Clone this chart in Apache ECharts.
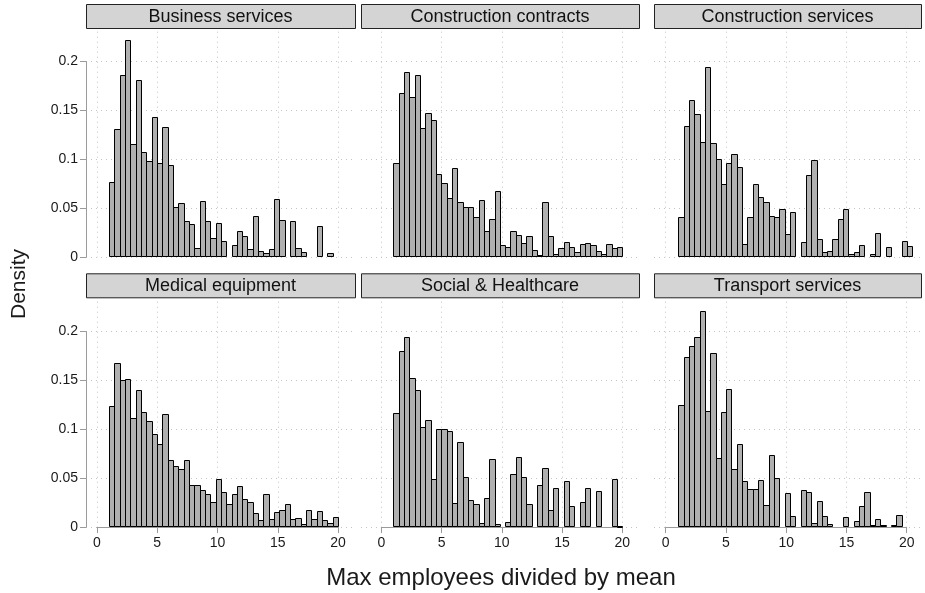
<!DOCTYPE html>
<html>
<head>
<meta charset="utf-8">
<script src="https://cdn.jsdelivr.net/npm/echarts@6.0.0/dist/echarts.min.js"></script>
<style>
  html, body { margin: 0; padding: 0; background: #ffffff; }
  #chart { width: 925px; height: 593px; }
</style>
</head>
<body>
<div id="chart"></div>
<script>
// Panel titles, in reading order (row by row)
const panelNames = [
  'Business services', 'Construction contracts', 'Construction services',
  'Medical equipment', 'Social & Healthcare', 'Transport services'
];

// Histogram densities per bin, one array per sector
const businessServices = [
  0.077, 0.131, 0.186, 0.222, 0.1155, 0.181, 0.108, 0.098, 0.143, 0.096,
  0.133, 0.094, 0.051, 0.055, 0.037, 0.034, 0.009, 0.057, 0.037, 0.020,
  0.035, 0.016, 0, 0.012, 0.027, 0.022, 0.008, 0.042, 0.006, 0.0045,
  0.008, 0.059, 0.038, 0, 0.037, 0.0095, 0.005, 0, 0, 0.032,
  0, 0.004, 0
];
const constructionContracts = [
  0.096, 0.168, 0.189, 0.1635, 0.186, 0.132, 0.147, 0.140, 0.085, 0.076,
  0.060, 0.091, 0.0566, 0.051, 0.051, 0.041, 0.0586, 0.0266, 0.039, 0.0675,
  0.012, 0.010, 0.0266, 0.0225, 0.0143, 0.022, 0.0075, 0.0024, 0.056, 0.0215,
  0.003, 0.0095, 0.0153, 0.010, 0.005, 0.0133, 0.0143, 0.012, 0.0058, 0.003,
  0.0133, 0.0089, 0.0106
];
const constructionServices = [
  0.041, 0.134, 0.161, 0.146, 0.118, 0.194, 0.117, 0.100, 0.0746, 0.096,
  0.1056, 0.092, 0.0133, 0.041, 0.0746, 0.061, 0.056, 0.042, 0.041, 0.0487,
  0.0235, 0.0463, 0, 0.0152, 0.084, 0.0995, 0.0184, 0.005, 0.006, 0.0184,
  0.039, 0.0495, 0.003, 0.005, 0.0122, 0, 0.003, 0.0245, 0, 0.0102,
  0, 0, 0.0164, 0.0109
];
const medicalEquipment = [
  0.124, 0.168, 0.151, 0.152, 0.112, 0.140, 0.118, 0.109, 0.095, 0.085,
  0.116, 0.069, 0.062, 0.059, 0.069, 0.043, 0.043, 0.038, 0.034, 0.026,
  0.049, 0.036, 0.024, 0.034, 0.042, 0.029, 0.026, 0.014, 0.0075, 0.034,
  0.0085, 0.015, 0.017, 0.024, 0.0085, 0.0089, 0.0034, 0.018, 0.0085, 0.016,
  0.0075, 0.004, 0.010
];
const socialHealthcare = [
  0.1165, 0.180, 0.194, 0.1526, 0.140, 0.102, 0.110, 0.0487, 0.1008, 0.1008,
  0.0988, 0.0249, 0.0872, 0.0514, 0.028, 0.0238, 0.0044, 0.030, 0.0698, 0.003,
  0, 0.0055, 0.0545, 0.0719, 0.0514, 0.0238, 0, 0.0426, 0.0603, 0.0177,
  0.040, 0, 0.0467, 0.0218, 0, 0.0259, 0.040, 0, 0.0371, 0,
  0, 0.049, 0.001
];
const transportServices = [
  0.125, 0.174, 0.1853, 0.1945, 0.2208, 0.1189, 0.1779, 0.0709, 0.1179, 0.1414,
  0.0593, 0.0852, 0.047, 0.0388, 0.0388, 0.048, 0.0225, 0.0739, 0.0504, 0,
  0.0348, 0.0112, 0, 0.038, 0.0362, 0.0044, 0.027, 0.0112, 0.0033, 0,
  0, 0.0099, 0, 0.0065, 0.0213, 0.0362, 0.002, 0.0086, 0.002, 0,
  0.002, 0.0123
];

// Lower edge of the first bin and bin width for each panel
const binStarts = [1.0, 1.0, 1.05, 1.0, 1.0, 1.05];
const binWidths = [0.4419, 0.4419, 0.441, 0.4419, 0.4419, 0.441];

// Axis ticks
const densityTicks = [0, 0.05, 0.1, 0.15, 0.2];
const xTicks = [0, 5, 10, 15, 20];

const yLabel = 'Density';
const xLabel = 'Max employees divided by mean';

const panelValues = [
  businessServices, constructionContracts, constructionServices,
  medicalEquipment, socialHealthcare, transportServices
];

// ---- layout (pixels) ----
const FONT = '"Liberation Sans", Arial, Helvetica, sans-serif';
const colDataLeft = [97, 381.3, 665.7];
const DATA_WIDTH = 241;
const colStripLeft = [86, 361, 654];
const colStripRight = [355, 639, 921];
const rowPlotTop = [31.7, 301.7];
const PLOT_HEIGHT = 225.4;
const rowStripTop = [4, 273.3];
const STRIP_HEIGHT = 24;
const Y_TOP = 0.2306;           // density at the top edge of the plot region
const PX_PER_UNIT = PLOT_HEIGHT / Y_TOP;

const AXIS_GREY = '#9b9b9b';
const GRID_GREY = '#c4c4c4';
const TEXT = '#1a1a1a';

function renderBar(params, api) {
  const h = api.value(2);
  if (!(h > 0)) return null;
  const a = api.coord([api.value(0), h]);
  const b = api.coord([api.value(1), 0]);
  const x0 = Math.round(a[0]) + 0.5;
  const x1 = Math.round(b[0]) + 0.5;
  const y0 = Math.round(a[1]) + 0.5;
  const y1 = Math.round(b[1]) - 0.5;
  return {
    type: 'rect',
    shape: { x: x0, y: y0, width: x1 - x0, height: Math.max(1, y1 - y0) },
    style: { fill: '#b0b0b0', stroke: '#000000', lineWidth: 1 }
  };
}

const grids = [], xAxes = [], yAxes = [], series = [], graphics = [];

panelValues.forEach(function (values, p) {
  const r = Math.floor(p / 3), c = p % 3;
  const top = rowPlotTop[r];

  // background grid: horizontal dotted lines across the whole plot region
  const bg = grids.length;
  grids.push({
    left: colStripLeft[c], top: top,
    width: colStripRight[c] - colStripLeft[c], height: PLOT_HEIGHT,
    containLabel: false, outerBoundsMode: 'none'
  });
  xAxes.push({ gridIndex: bg, type: 'value', min: 0, max: 1, show: false });
  yAxes.push({
    gridIndex: bg, type: 'value', min: 0, max: Y_TOP, interval: 0.05,
    axisLine: { show: false }, axisTick: { show: false }, axisLabel: { show: false },
    splitLine: { show: true, showMaxLine: false,
      lineStyle: { color: GRID_GREY, type: [1, 4], width: 1 } }
  });

  // data grid: x from 0 to 20
  const dg = grids.length;
  grids.push({
    left: colDataLeft[c], top: top, width: DATA_WIDTH, height: PLOT_HEIGHT,
    containLabel: false, outerBoundsMode: 'none'
  });
  xAxes.push({
    gridIndex: dg, type: 'value', min: xTicks[0], max: xTicks[xTicks.length - 1],
    interval: xTicks[1] - xTicks[0],
    axisLine: { show: r === 1, onZero: false, lineStyle: { color: AXIS_GREY, width: 1 } },
    axisTick: { show: r === 1, length: 6, lineStyle: { color: AXIS_GREY } },
    axisLabel: { show: r === 1, margin: 9, color: TEXT, fontSize: 14, fontFamily: FONT,
      formatter: function (v) { return xTicks.indexOf(v) >= 0 ? String(v) : ''; } },
    splitLine: { show: true, lineStyle: { color: GRID_GREY, type: [1, 4], width: 1 } }
  });
  yAxes.push({
    gridIndex: dg, type: 'value', min: 0, max: Y_TOP, show: false,
    splitLine: { show: false }
  });

  const rows = values.map(function (v, i) {
    const lo = binStarts[p] + i * binWidths[p];
    return [lo, lo + binWidths[p], v];
  });
  series.push({
    type: 'custom', xAxisIndex: xAxes.length - 1, yAxisIndex: yAxes.length - 1,
    dimensions: ['lo', 'hi', 'density'],
    encode: { x: [0, 1], y: 2 },
    renderItem: renderBar, data: rows, clip: false, silent: true
  });

  // panel header strip
  graphics.push({
    type: 'rect', silent: true,
    shape: { x: colStripLeft[c] + 0.5, y: rowStripTop[r] + 0.5,
      width: colStripRight[c] - colStripLeft[c], height: STRIP_HEIGHT },
    style: { fill: '#d4d4d4', stroke: '#222222', lineWidth: 1 }
  });
  graphics.push({
    type: 'text', silent: true,
    x: (colStripLeft[c] + colStripRight[c]) / 2, y: rowStripTop[r] + STRIP_HEIGHT / 2 + 1,
    style: { text: panelNames[p], fill: '#111111', font: '18px ' + FONT,
      align: 'center', verticalAlign: 'middle' }
  });
});

// visible density axis on the left column, spanning 0 to 0.2
[0, 1].forEach(function (r) {
  const yMax = densityTicks[densityTicks.length - 1];
  const g = grids.length;
  grids.push({
    left: 86, width: 10,
    top: rowPlotTop[r] + (Y_TOP - yMax) * PX_PER_UNIT,
    height: yMax * PX_PER_UNIT,
    containLabel: false, outerBoundsMode: 'none'
  });
  xAxes.push({ gridIndex: g, type: 'value', min: 0, max: 1, show: false });
  yAxes.push({
    gridIndex: g, type: 'value', position: 'left',
    min: densityTicks[0], max: yMax, interval: densityTicks[1] - densityTicks[0],
    axisLine: { show: true, lineStyle: { color: AXIS_GREY, width: 1 } },
    axisTick: { show: true, length: 6, lineStyle: { color: AXIS_GREY } },
    axisLabel: { show: true, margin: 8, color: TEXT, fontSize: 14, fontFamily: FONT,
      formatter: function (v) { return String(+v.toFixed(2)); } },
    splitLine: { show: false }
  });
});

// shared axis titles
graphics.push({
  type: 'text', silent: true, x: 19, y: 284, rotation: Math.PI / 2,
  style: { text: yLabel, fill: TEXT, font: '21px ' + FONT, align: 'center', verticalAlign: 'middle' }
});
graphics.push({
  type: 'text', silent: true, x: 501, y: 578,
  style: { text: xLabel, fill: TEXT, font: '24px ' + FONT, align: 'center', verticalAlign: 'middle' }
});

const chart = echarts.init(document.getElementById('chart'), null, { renderer: 'canvas' });
chart.setOption({
  backgroundColor: '#ffffff',
  animation: false,
  textStyle: { fontFamily: FONT },
  grid: grids,
  xAxis: xAxes,
  yAxis: yAxes,
  series: series,
  graphic: graphics
});
</script>
</body>
</html>
